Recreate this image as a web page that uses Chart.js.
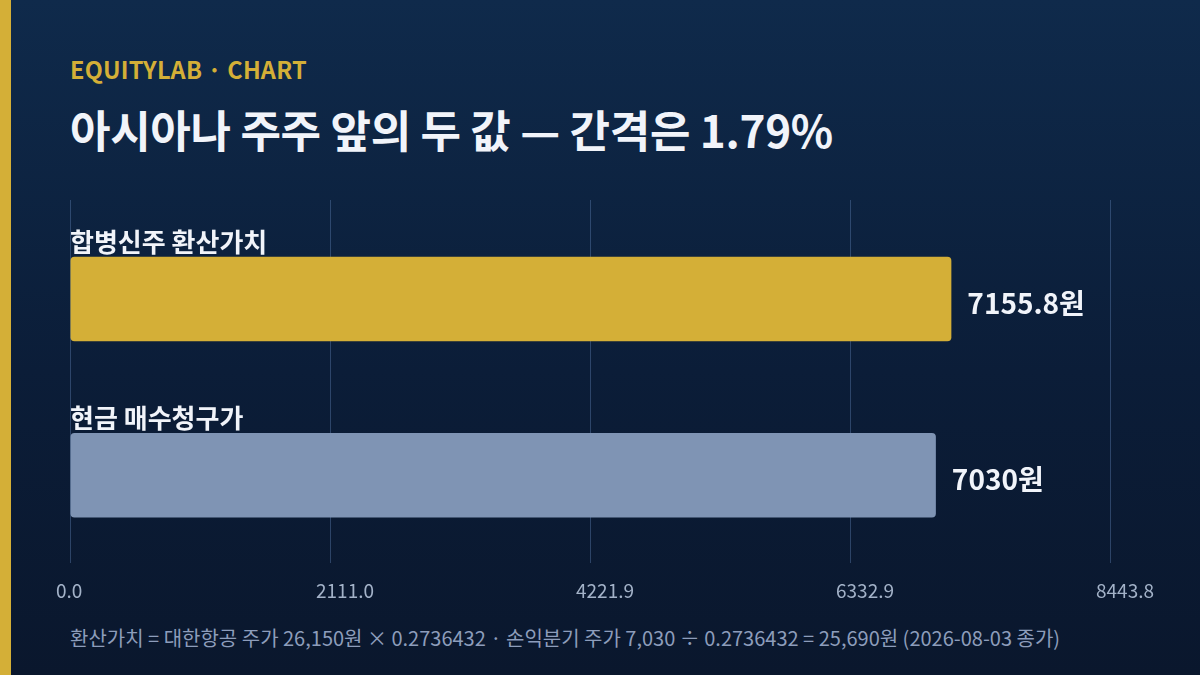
<!DOCTYPE html>
<html>
<head>
<meta charset="utf-8">
<script src="https://cdn.jsdelivr.net/npm/chart.js@4.4.1/dist/chart.umd.min.js"></script>
<style>
  html, body { margin: 0; padding: 0; }
  body { width: 1200px; height: 675px; overflow: hidden; position: relative;
    background: linear-gradient(180deg, #0f2a4b 0%, #0b1d38 55%, #0a172d 100%);
    font-family: "Noto Sans CJK KR", "Noto Sans", sans-serif; }
  .stripe { position: absolute; left: 0; top: 0; width: 11px; height: 675px; background: #d4af37; }
  .kicker { position: absolute; left: 70px; top: 53px; font-size: 23.5px; line-height: 1.4; font-weight: 700; color: #d4af37; letter-spacing: 0.2px; }
  .title { position: absolute; left: 70px; top: 99px; font-size: 44px; line-height: 1.4; font-weight: 700; color: #f1f4fa; letter-spacing: -0.3px; white-space: nowrap; }
  .foot { position: absolute; left: 70px; top: 624px; font-size: 20px; line-height: 1.4; color: #8d9dbb; white-space: nowrap; }
  #wrap { position: absolute; left: 0; top: 0; width: 1200px; height: 675px; }
</style>
</head>
<body>
<div class="stripe"></div>
<div class="kicker">EQUITYLAB · CHART</div>
<div class="title">아시아나 주주 앞의 두 값 — 간격은 1.79%</div>
<div class="foot">환산가치 = 대한항공 주가 26,150원 × 0.2736432 · 손익분기 주가 7,030 ÷ 0.2736432 = 25,690원 (2026-08-03 종가)</div>
<div id="wrap"><canvas id="c" width="1200" height="675"></canvas></div>
<script>
const categories = ["합병신주 환산가치", "현금 매수청구가"];
const values = [7155.8, 7030];
const valueLabels = ["7155.8원", "7030원"];
const barColors = ["#d4af37", "#7f94b4"];
const tickValues = [0, 2110.95, 4221.9, 6332.85, 8443.8];
const tickLabels = ["0.0", "2111.0", "4221.9", "6332.9", "8443.8"];
const axisMax = 8443.8;

const FONT = '"Noto Sans CJK KR", "Noto Sans", sans-serif';

const labelPlugin = {
  id: 'labels',
  beforeDatasetsDraw(chart) {
    const ctx = chart.ctx;
    const xs = chart.scales.x;
    const top = chart.chartArea.top;
    ctx.save();
    ctx.strokeStyle = 'rgba(86,120,168,0.45)';
    ctx.lineWidth = 1;
    xs.ticks.forEach(t => {
      const px = Math.round(xs.getPixelForValue(t.value)) + 0.5;
      ctx.beginPath();
      ctx.moveTo(px, top - 11);
      ctx.lineTo(px, top);
      ctx.stroke();
    });
    ctx.restore();
  },
  afterDatasetsDraw(chart) {
    const ctx = chart.ctx;
    const meta = chart.getDatasetMeta(0);
    ctx.save();
    meta.data.forEach((bar, i) => {
      const h = bar.height;
      ctx.fillStyle = '#f1f4fa';
      ctx.font = '700 26px ' + FONT;
      ctx.textAlign = 'left';
      ctx.textBaseline = 'alphabetic';
      ctx.fillText(categories[i], chart.chartArea.left, bar.y - h / 2 - 5);
      ctx.font = '700 28px ' + FONT;
      ctx.textBaseline = 'middle';
      ctx.fillText(valueLabels[i], bar.x + 16, bar.y + 4);
    });
    ctx.restore();
  }
};

new Chart(document.getElementById('c'), {
  type: 'bar',
  data: {
    labels: categories,
    datasets: [{
      data: values,
      backgroundColor: barColors,
      borderRadius: 4,
      borderSkipped: false,
      barPercentage: 0.8,
      categoryPercentage: 0.6
    }]
  },
  options: {
    indexAxis: 'y',
    responsive: false,
    animation: false,
    devicePixelRatio: 1,
    layout: { padding: { left: 70, right: 90, top: 211, bottom: 57 } },
    plugins: { legend: { display: false }, tooltip: { enabled: false } },
    scales: {
      x: {
        min: 0, max: axisMax,
        afterBuildTicks(scale) {
          scale.ticks = tickValues.map(v => ({ value: v }));
        },
        ticks: {
          color: '#a3b2c8',
          font: { family: FONT, size: 19 },
          padding: 16,
          align: 'start',
          labelOffset: -14,
          callback: (v, i) => tickLabels[i],
          maxRotation: 0,
          autoSkip: false
        },
        grid: { color: 'rgba(86,120,168,0.45)', drawTicks: false },
        border: { display: false }
      },
      y: {
        display: false,
        grid: { display: false }
      }
    }
  },
  plugins: [labelPlugin]
});
</script>
</body>
</html>
